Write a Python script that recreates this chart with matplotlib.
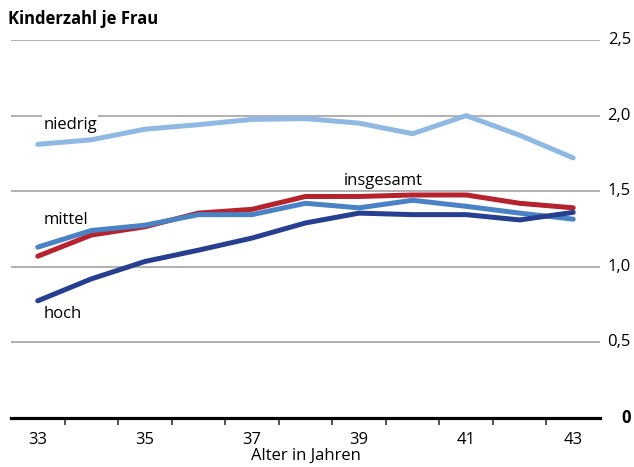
import matplotlib.pyplot as plt
from matplotlib.ticker import FixedLocator
from matplotlib.transforms import blended_transform_factory

plt.rcParams['font.family'] = ['Open Sans', 'DejaVu Sans']

# Data
alter = [33, 34, 35, 36, 37, 38, 39, 40, 41, 42, 43]
niedrig = [1.81, 1.84, 1.91, 1.94, 1.975, 1.98, 1.95, 1.88, 2.00, 1.87, 1.72]
insgesamt = [1.07, 1.21, 1.265, 1.355, 1.38, 1.465, 1.465, 1.475, 1.475, 1.42, 1.39]
mittel = [1.13, 1.24, 1.275, 1.345, 1.345, 1.42, 1.39, 1.44, 1.40, 1.355, 1.315]
hoch = [0.775, 0.92, 1.035, 1.11, 1.19, 1.29, 1.355, 1.345, 1.345, 1.31, 1.36]

y_ticks = [0, 0.5, 1.0, 1.5, 2.0, 2.5]
y_labels = ['0', '0,5', '1,0', '1,5', '2,0', '2,5']
x_ticks = [33, 35, 37, 39, 41, 43]

fig = plt.figure(figsize=(6.34, 4.67), dpi=100)
ax = fig.add_axes([11 / 634, 49 / 467, 589 / 634, 378 / 467])

lw = 3.6
ax.plot(alter, niedrig, color='#8fb9e3', lw=lw, solid_capstyle='round', zorder=3)
ax.plot(alter, insgesamt, color='#b5232f', lw=lw, solid_capstyle='round', zorder=3)
ax.plot(alter, mittel, color='#4a82c6', lw=lw, solid_capstyle='round', zorder=4)
ax.plot(alter, hoch, color='#263f91', lw=lw, solid_capstyle='round', zorder=5)

ax.set_xlim(32.5, 43.5)
ax.set_ylim(0, 2.5)

# y gridlines, labels on the right drawn as text (right aligned)
ax.set_yticks(y_ticks)
ax.tick_params(axis='y', length=0, labelleft=False, labelright=False)
ax.grid(axis='y', color='#aaaaaa', lw=1.3, zorder=0)
ax.set_axisbelow(True)
trans = blended_transform_factory(fig.transFigure, ax.transData)
for v, lab in zip(y_ticks, y_labels):
    ax.text(631 / 634, v, lab, transform=trans, fontsize=12, ha='right', va='center',
            fontweight='bold' if v == 0 else 'normal', clip_on=False)

# x axis
ax.set_xticks(x_ticks)
ax.set_xticklabels([str(x) for x in x_ticks], fontsize=12)
ax.xaxis.set_minor_locator(FixedLocator([a + 0.5 for a in alter[:-1]]))
ax.tick_params(axis='x', which='major', length=0, pad=10)
ax.tick_params(axis='x', which='minor', length=5, width=1.2, color='#333333', direction='out')
ax.set_xlabel('Alter in Jahren', fontsize=12, labelpad=0)

for s in ['top', 'left', 'right']:
    ax.spines[s].set_visible(False)
ax.spines['bottom'].set_linewidth(2.3)
ax.spines['bottom'].set_zorder(6)

# series labels
ax.text(33.1, 1.94, 'niedrig', fontsize=12, va='center', ha='left',
        bbox=dict(facecolor='white', edgecolor='none', pad=1), zorder=2)
ax.text(33.1, 1.31, 'mittel', fontsize=12, va='center', ha='left')
ax.text(33.1, 0.685, 'hoch', fontsize=12, va='center', ha='left')
ax.text(38.71, 1.57, 'insgesamt', fontsize=12, va='center', ha='left')

fig.text(8 / 634, 1 - 19 / 467, 'Kinderzahl je Frau', fontsize=12,
         fontweight='bold', va='center', ha='left')

fig.savefig('out.png', dpi=100)
